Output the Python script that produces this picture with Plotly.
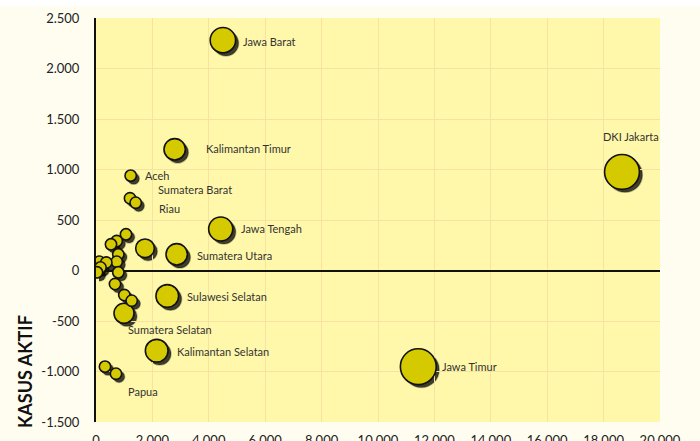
import plotly.graph_objects as go

# ---- data ----
provinces = [
    "Jawa Barat", "Kalimantan Timur", "Aceh", "Sumatera Barat", "Riau",
    "Jawa Tengah", "Sumatera Utara", "DKI Jakarta", "Jawa Timur",
    "Sulawesi Selatan", "Sumatera Selatan", "Kalimantan Selatan", "Papua",
    "", "", "", "", "", "", "", "", "", "", "", "", "", "", "",
]
kasus_x = [
    4500, 2790, 1230, 1206, 1408,
    4422, 2862, 18652, 11429,
    2528, 993, 2152, 709,
    1064, 734, 532, 791, 734, 791, 674, 117, 365, 160, 35, 1004, 1266, 319, 1738,
]
kasus_aktif = [
    2280, 1200, 939, 715, 671,
    411, 160, 976, -952,
    -252, -424, -794, -1022,
    358, 292, 259, 160, 87, -18, -134, 87, 79, 30, -18, -243, -299, -952, 220,
]
bubble_value = [
    9000, 6400, 1800, 1800, 1800,
    8100, 6400, 17000, 18000,
    7200, 5600, 7200, 1800,
    1800, 1800, 1800, 1800, 1800, 1800, 1800, 1800, 1800, 1800, 1800, 1800, 1800, 1800, 4900,
]
x_tickvals = [0, 2000, 4000, 6000, 8000, 10000, 12000, 14000, 16000, 18000, 20000]
x_ticktext = ["0", "2.000", "4.000", "6.000", "8.000", "10.000", "12.000",
              "14.000", "16.000", "18.000", "20.000"]
y_tickvals = [-1500, -1000, -500, 0, 500, 1000, 1500, 2000, 2500]
y_ticktext = ["-1.500", "-1.000", "-500", "0", "500", "1.000", "1.500", "2.000", "2.500"]
y_title = "KASUS AKTIF"

# label offsets in pixels (xshift, yshift) for the named bubbles
label_offsets = {
    "Jawa Barat": (18, -1), "Kalimantan Timur": (29, 1), "Aceh": (12, 0),
    "Sumatera Barat": (26, 9), "Riau": (21, -6), "Jawa Tengah": (18, 0),
    "Sumatera Utara": (18, -1), "DKI Jakarta": (-21, 35), "Jawa Timur": (22, 0),
    "Sulawesi Selatan": (18, -1), "Sumatera Selatan": (2, -16),
    "Kalimantan Selatan": (18, -1), "Papua": (10, -18),
}

# ---- layout geometry ----
ML, MR, MT, MB = 96, 37, 18, 16
W, H = 700, 441
PW, PH = W - ML - MR, H - MT - MB
SH = 3  # shadow offset px
fx = SH / PW
fy = SH / PH

XR = [0, 20000]
YR = [-1500, 2500]
SIZEREF = 28

fig = go.Figure()

# shadow bubbles (on a subplot shifted right/down)
fig.add_trace(go.Scatter(
    x=kasus_x, y=kasus_aktif, mode="markers", xaxis="x", yaxis="y",
    marker=dict(size=bubble_value, sizemode="area", sizeref=SIZEREF,
                color="rgba(0,0,0,0.75)", opacity=1,
                line=dict(color="rgba(0,0,0,0.25)", width=1.5)),
    hoverinfo="skip", showlegend=False,
))
# main bubbles
fig.add_trace(go.Scatter(
    x=kasus_x, y=kasus_aktif, mode="markers", xaxis="x2", yaxis="y2",
    marker=dict(size=bubble_value, sizemode="area", sizeref=SIZEREF, opacity=1,
                color="#D5CA00", line=dict(color="#111111", width=1.6)),
    text=provinces, showlegend=False,
))

annotations = []
for name, xv, yv in zip(provinces, kasus_x, kasus_aktif):
    if not name:
        continue
    dx, dy = label_offsets[name]
    annotations.append(dict(
        x=xv, y=yv, xref="x2", yref="y2", text=name, showarrow=False,
        xanchor="left", yanchor="middle", xshift=dx, yshift=dy,
        font=dict(family="Lato", size=11, color="#333333"),
    ))
annotations.append(dict(
    x=(25 - ML) / PW, y=(H - MB - 372) / PH, xref="paper", yref="paper",
    text=f"<b>{y_title}</b>", textangle=-90, showarrow=False,
    xanchor="center", yanchor="middle",
    font=dict(family="Lato", size=18, color="#111111"),
))

grid_col = "#F7E2A2"
tick_font = dict(family="Lato", size=13, color="#222222")

fig.update_layout(
    width=W, height=H,
    margin=dict(l=ML, r=MR, t=MT, b=MB, pad=0, autoexpand=False),
    paper_bgcolor="#FFFDF0",
    plot_bgcolor="rgba(0,0,0,0)",
    separators=",.",
    showlegend=False,
    annotations=annotations,
    shapes=[
        dict(type="rect", xref="paper", yref="paper", x0=0, x1=1 - fx, y0=fy, y1=1,
             fillcolor="#FFF8AA", line=dict(width=0), layer="below"),
        dict(type="rect", xref="paper", yref="paper", x0=-ML / PW, x1=1 + MR / PW,
             y0=1 + (MT - 6) / PH, y1=1 + MT / PH,
             fillcolor="#FFFFFF", line=dict(width=0), layer="below"),
    ],
    xaxis=dict(domain=[fx, 1], range=XR, visible=False, fixedrange=True,
               automargin=False),
    yaxis=dict(domain=[0, 1 - fy], range=YR, visible=False, fixedrange=True,
               automargin=False),
    xaxis2=dict(domain=[0, 1 - fx], range=XR, anchor="y2", automargin=False,
                tickvals=x_tickvals, ticktext=x_ticktext,
                showgrid=True, gridcolor=grid_col, gridwidth=1,
                zeroline=False, showline=False, ticks="",
                tickfont=tick_font, ticklabelstandoff=9),
    yaxis2=dict(domain=[fy, 1], range=YR, anchor="x2", automargin=False,
                tickvals=y_tickvals, ticktext=y_ticktext,
                showgrid=True, gridcolor=grid_col, gridwidth=1,
                zeroline=True, zerolinecolor="#111111", zerolinewidth=2,
                showline=True, linecolor="#111111", linewidth=2, ticks="",
                tickfont=tick_font, ticklabelstandoff=12),
)

fig.write_html(
    "out.html",
    config={"displayModeBar": False},
    post_script="document.body.style.margin='0';document.body.style.background='#FFFDF0';",
)
